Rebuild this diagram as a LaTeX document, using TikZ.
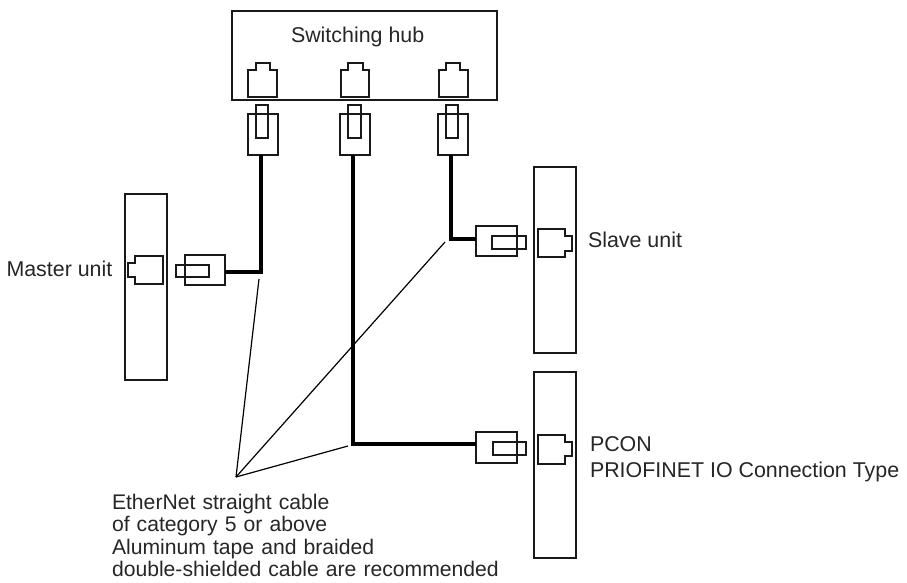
\documentclass[tikz,border=0pt]{standalone}
\usepackage{fontspec}
\setmainfont{Liberation Sans}
\newcommand{\bx}[6][]{\node[unitbox,#1,minimum width=#5pt-#3pt,minimum height=#6pt-#4pt] (#2) at ({(#3+#5)/2},{(#4+#6)/2}) {};}
% socket opening upward: x1,x2 body, tx1,tx2 tab, ytab, ybody, ybottom
\newcommand{\sockup}[7]{\draw[thinline] (#1,#7) -- (#1,#6) -- (#3,#6) -- (#3,#5) -- (#4,#5) -- (#4,#6) -- (#2,#6) -- (#2,#7) -- cycle;}
% socket opening sideways: xbody1, xbody2, xtab, ybody1, ybody2, ytab1, ytab2
\newcommand{\sockside}[7]{\draw[thinline] (#2,#4) -- (#1,#4) -- (#1,#5) -- (#2,#5) -- (#2,#7) -- (#3,#7) -- (#3,#6) -- (#2,#6) -- cycle;}
\tikzset{
  x=1pt,y=-1pt,
  thinline/.style={draw=black!90,line width=1.2pt,line join=miter},
  unitbox/.style={draw=black!90,line width=1.2pt,fill=none,inner sep=0pt,outer sep=0pt,rectangle},
  cable/.style={draw=black,line width=3.4pt,line join=miter},
  leader/.style={draw=black,line width=1.2pt},
  lbl/.style={font=\fontsize{21.4pt}{22.6pt}\selectfont,text=black!85,inner sep=0pt,outer sep=0pt,align=left,anchor=base west},
  lblcable/.style={lbl,font=\fontsize{21.15pt}{22.6pt}\selectfont},
}
\begin{document}
\begin{tikzpicture}
\useasboundingbox (0,0) rectangle (907,583);
% units
\bx{hub}{232}{11}{497}{100}
\bx{master}{125}{194}{167}{380}
\bx{slave}{534}{167}{576}{353}
\bx{pcon}{534}{372}{576}{558}
% hub sockets
\sockup{248}{277}{256}{270}{63}{70}{97}
\sockup{341}{369}{348}{363}{63}{70}{97}
\sockup{439}{468}{446}{460}{63}{70}{97}
% unit sockets
\draw[thinline] (135,256) -- (163,256) -- (163,284) -- (135,284) -- (135,277) -- (128,277) -- (128,263) -- (135,263) -- cycle;
\sockside{538}{565}{572}{229}{257}{236}{251}
\sockside{538}{565}{572}{435}{464}{442}{456}
% plugs
\bx{plugA}{248}{114}{278}{155}
\bx{tabA}{256}{105}{268}{138}
\bx{plugB}{340}{114}{370}{155}
\bx{tabB}{348}{105}{361}{138}
\bx{plugC}{438}{114}{468}{155}
\bx{tabC}{446}{105}{458}{138}
\bx{plugM}{185}{255}{225}{285}
\bx{tabM}{176}{265}{209}{277}
\bx{plugS}{476}{226}{517}{256}
\bx{tabS}{492}{236}{526}{249}
\bx{plugP}{476}{432}{517}{463}
\bx{tabP}{493}{442}{526}{455}
% cable corners and leader ends
\coordinate (cM) at (261,272);
\coordinate (cS) at (451,239);
\coordinate (cP) at (353,444);
\coordinate (fan) at (236,477);
\coordinate (lM) at (259,279);
\coordinate (lS) at (445,242);
\coordinate (lP) at (348,446);
% cables
\draw[cable] (plugM.east |- cM) -- (cM) -- (cM |- plugA.south);
\draw[cable] (plugS.west |- cS) -- (cS) -- (cS |- plugC.south);
\draw[cable] (plugP.west |- cP) -- (cP) -- (cP |- plugB.south);
% leaders
\draw[leader] (lM) -- (fan);
\draw[leader] (lS) -- (fan);
\draw[leader] (lP) -- (fan);
% labels
\node[lbl] (tHub) at (291,43) {Switching hub};
\node[lbl] (tMaster) at (6.5,276) {Master unit};
\node[lbl] (tSlave) at (588,247) {Slave unit};
\node[lbl] (tPcon) at (590,451) {PCON};
\node[lbl] (tPro) at (590,477) {PRIOFINET IO Connection Type};
\node[lblcable,text width=400pt,anchor=base west] (tCable) at (112,509) {EtherNet straight cable\\of category 5 or above\\Aluminum tape and braided\\double-shielded cable are recommended};
\end{tikzpicture}
\end{document}
